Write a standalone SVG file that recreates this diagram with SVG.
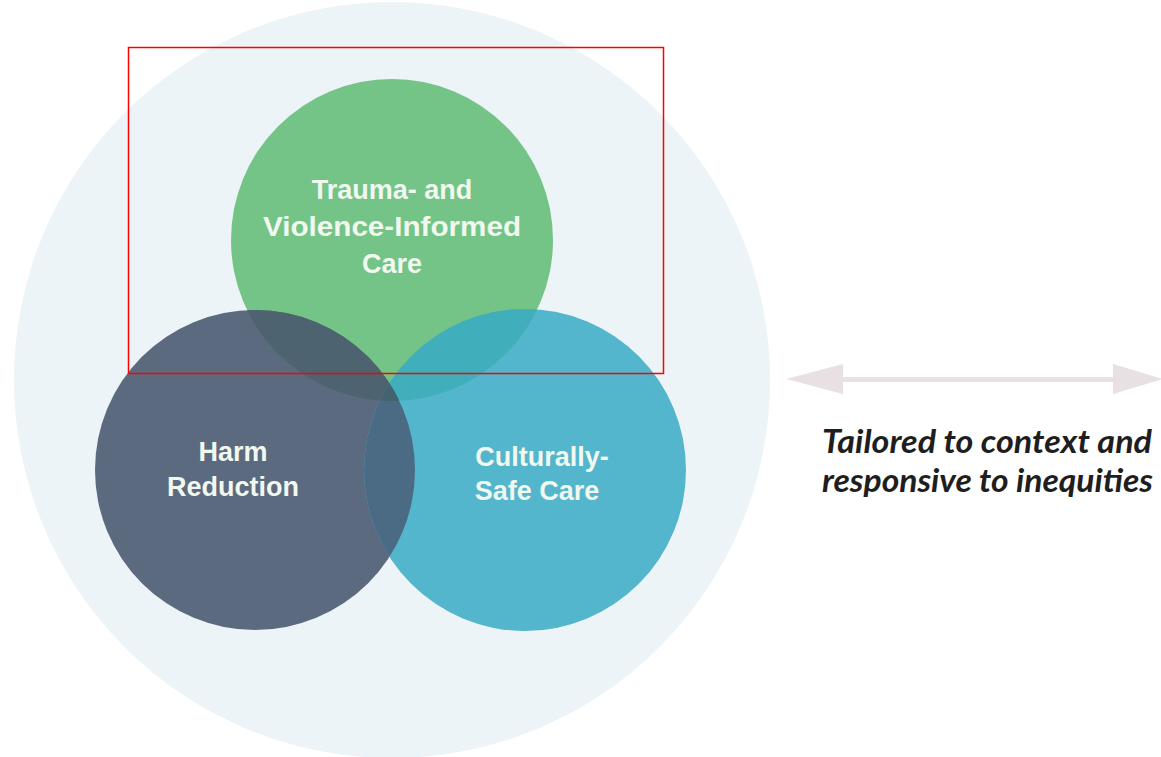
<svg xmlns="http://www.w3.org/2000/svg" width="1161" height="757" viewBox="0 0 1161 757">
<style>
.lbl{font-family:"Liberation Sans",Arial,sans-serif;font-weight:bold;font-size:27px;fill:#f1f8ef;text-anchor:middle}
.side{font-family:Lato,"Open Sans",sans-serif;font-weight:bold;font-style:italic;font-size:32px;fill:#1e1e1e}
</style>
<defs>
<clipPath id="cG"><circle cx="392" cy="240" r="161"/></clipPath>
<clipPath id="cD"><circle cx="255" cy="470" r="160"/></clipPath>
<clipPath id="cB"><circle cx="525" cy="470" r="161"/></clipPath>
</defs>
<rect width="1161" height="757" fill="#ffffff"/>
<circle id="background" cx="392" cy="380" r="378" fill="#edf4f7"/>
<g id="trauma">
<circle cx="392" cy="240" r="161" fill="#74c487"/>
<text class="lbl" x="392" y="199">Trauma- and</text>
<text class="lbl" x="392" y="236" textLength="258" lengthAdjust="spacingAndGlyphs">Violence-Informed</text>
<text class="lbl" x="392" y="273">Care</text>
</g>
<g id="harm">
<circle cx="255" cy="470" r="160" fill="#5c6a7f"/>
</g>
<g id="culture">
<circle cx="525" cy="470" r="161" fill="#53b6cc"/>
</g>
<g id="overlaps">
<circle cx="255" cy="470" r="160" fill="#4e6370" clip-path="url(#cG)"/>
<circle cx="525" cy="470" r="161" fill="#40afbb" clip-path="url(#cG)"/>
<g clip-path="url(#cD)"><circle cx="525" cy="470" r="161" fill="#4b6b85"/></g>
<g clip-path="url(#cG)"><g clip-path="url(#cD)"><circle cx="525" cy="470" r="161" fill="#44626f"/></g></g>
</g>
<g id="labels">
<text class="lbl" x="233" y="461">Harm</text>
<text class="lbl" x="233" y="496">Reduction</text>
<text class="lbl" x="542" y="466">Culturally-</text>
<text class="lbl" x="537" y="500">Safe Care</text>
</g>
<g id="connectors">
<line x1="840" y1="379.5" x2="1118" y2="379.5" stroke="#e8e0e3" stroke-width="5"/>
<polygon points="786,379 843,364 843,394" fill="#e8e0e3"/>
<polygon points="1163,379 1113,364 1113,394" fill="#e8e0e3"/>
</g>
<g id="side-text">
<text class="side" x="822" y="453" textLength="330" lengthAdjust="spacingAndGlyphs">Tailored to context and</text>
<text class="side" x="822" y="492" textLength="331" lengthAdjust="spacingAndGlyphs">responsive to inequities</text>
</g>
<rect x="128.5" y="47.5" width="535" height="326" fill="none" stroke="#ff0000" stroke-width="1.5"/>
</svg>
